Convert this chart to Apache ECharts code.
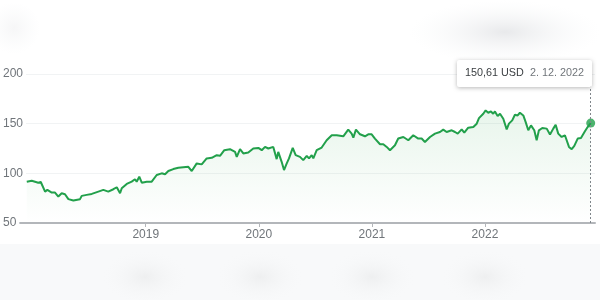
<!DOCTYPE html>
<html>
<head>
<meta charset="utf-8">
<script src="https://cdn.jsdelivr.net/npm/echarts@6/dist/echarts.min.js"></script>
<style>html,body{margin:0;padding:0;background:#fff}#c{width:600px;height:300px}</style>
</head>
<body>
<div id="c"></div>
<script>
const years = [
  2017.948, 2017.992, 2018.050, 2018.072, 2018.110, 2018.130, 2018.169, 2018.198, 2018.227, 2018.257,
  2018.286, 2018.316, 2018.360, 2018.419, 2018.434, 2018.478, 2018.523, 2018.581, 2018.625, 2018.669,
  2018.714, 2018.744, 2018.773, 2018.788, 2018.832, 2018.876, 2018.905, 2018.920, 2018.943, 2018.965,
  2019.009, 2019.053, 2019.097, 2019.141, 2019.171, 2019.200, 2019.244, 2019.288, 2019.377, 2019.407,
  2019.451, 2019.495, 2019.539, 2019.584, 2019.628, 2019.657, 2019.695, 2019.745, 2019.790, 2019.805,
  2019.834, 2019.863, 2019.907, 2019.951, 2019.996, 2020.026, 2020.055, 2020.084, 2020.128, 2020.143,
  2020.158, 2020.172, 2020.202, 2020.223, 2020.247, 2020.267, 2020.276, 2020.300, 2020.326, 2020.364,
  2020.393, 2020.424, 2020.444, 2020.468, 2020.482, 2020.512, 2020.556, 2020.600, 2020.645, 2020.689,
  2020.747, 2020.791, 2020.821, 2020.836, 2020.859, 2020.895, 2020.939, 2020.968, 2020.998, 2021.027,
  2021.072, 2021.101, 2021.131, 2021.160, 2021.204, 2021.233, 2021.278, 2021.322, 2021.366, 2021.410,
  2021.440, 2021.469, 2021.514, 2021.558, 2021.602, 2021.631, 2021.661, 2021.706, 2021.735, 2021.759,
  2021.794, 2021.817, 2021.852, 2021.897, 2021.927, 2021.947, 2021.985, 2022.006, 2022.029, 2022.053,
  2022.073, 2022.088, 2022.112, 2022.133, 2022.162, 2022.192, 2022.212, 2022.241, 2022.265, 2022.289,
  2022.309, 2022.339, 2022.360, 2022.383, 2022.407, 2022.436, 2022.457, 2022.477, 2022.507, 2022.546,
  2022.575, 2022.604, 2022.625, 2022.648, 2022.678, 2022.707, 2022.743, 2022.767, 2022.790, 2022.820,
  2022.849, 2022.884, 2022.908, 2022.935
];
// Closing prices in USD
const prices = [
  91.6, 92.6, 90.6, 91.3, 81.6, 83.3, 80.6, 80.6, 76.6, 80.0,
  79.0, 74.0, 72.6, 74.0, 77.3, 78.3, 79.3, 81.6, 83.3, 81.6,
  84.0, 86.0, 80.0, 85.0, 89.3, 91.6, 94.0, 91.6, 96.6, 90.6,
  91.6, 91.6, 98.3, 100.0, 99.0, 102.3, 104.3, 105.6, 106.6, 102.3,
  110.0, 109.0, 115.0, 115.6, 118.3, 117.6, 123.3, 124.3, 121.6, 116.6,
  124.3, 120.0, 121.0, 125.0, 125.6, 123.3, 126.6, 125.0, 126.6, 125.6,
  114.3, 121.6, 111.6, 103.3, 110.0, 115.0, 114.3, 125.6, 118.3, 116.6,
  113.3, 117.6, 115.0, 118.3, 115.0, 123.3, 126.0, 133.3, 138.3, 138.3,
  137.3, 144.0, 140.0, 136.0, 144.0, 139.3, 137.3, 139.3, 139.3, 135.0,
  129.3, 129.3, 126.6, 123.3, 128.3, 135.0, 136.6, 133.3, 138.3, 135.0,
  135.0, 131.6, 136.6, 140.0, 141.6, 144.0, 141.6, 143.3, 141.6, 140.0,
  144.3, 141.0, 146.0, 146.6, 150.0, 155.6, 160.0, 163.3, 161.0, 162.3,
  160.0, 162.3, 157.6, 160.0, 155.0, 144.3, 150.0, 153.3, 159.0, 158.3,
  161.0, 158.3, 151.6, 143.3, 148.3, 143.3, 133.3, 143.3, 145.6, 145.0,
  139.0, 145.0, 149.0, 140.0, 136.6, 138.3, 126.6, 124.3, 127.6, 135.0,
  135.6, 142.3, 146.6, 150.61
];
const xTickYears = [2019, 2020, 2021, 2022];
const yTicks = [50, 100, 150, 200];
const lastPriceText = '150,61 USD';
const lastDateText = '2. 12. 2022';

const GREEN = '#22a04b';
const GREY = '#70757a';
const lastIdx = prices.length - 1;
const FONT_TIP = '10.8px Arial, "Liberation Sans", sans-serif';

const chart = echarts.init(document.getElementById('c'), null, {renderer: 'canvas'});

function blob(cx, cy, r, sx, color, z) {
  return {
    type: 'circle', z: z, silent: true,
    x: cx, y: cy, scaleX: sx, scaleY: 1,
    shape: {cx: 0, cy: 0, r: r},
    style: {
      fill: {type: 'radial', x: 0.5, y: 0.5, r: 0.5,
        colorStops: [{offset: 0, color: color}, {offset: 1, color: 'rgba(248,249,250,0)'}]}
    }
  };
}

chart.setOption({
  animation: false,
  backgroundColor: '#fff',
  grid: {left: 15, right: 5, top: 74, bottom: 77},
  xAxis: {
    type: 'value',
    min: 2017.844,
    max: 2022.973,
    splitLine: {show: false},
    axisLine: {show: true, lineStyle: {color: '#b3b6ba', width: 2}},
    axisTick: {show: true, length: 4, customValues: xTickYears, lineStyle: {color: '#b3b6ba', width: 1}},
    axisLabel: {
      customValues: xTickYears,
      color: GREY, fontSize: 12, fontFamily: 'Arial, "Liberation Sans", sans-serif',
      margin: 6,
      formatter: v => String(Math.round(v))
    }
  },
  yAxis: {
    type: 'value',
    min: yTicks[0], max: yTicks[yTicks.length - 1], interval: 50,
    axisLine: {show: false},
    axisTick: {show: false},
    splitLine: {show: true, lineStyle: {color: '#f1f3f4', width: 1}},
    axisLabel: {
      align: 'left', margin: 12,
      color: GREY, fontSize: 12, fontFamily: 'Arial, "Liberation Sans", sans-serif',
      backgroundColor: '#fff', padding: [0, 3, 0, 0]
    }
  },
  series: [
    {
      type: 'line',
      data: years.map((t, i) => [t, prices[i]]),
      showSymbol: false,
      lineStyle: {color: GREEN, width: 2},
      itemStyle: {color: GREEN},
      areaStyle: {
        origin: 'start',
        color: {type: 'linear', x: 0, y: 0, x2: 0, y2: 1,
          colorStops: [{offset: 0, color: 'rgba(52,168,83,0.16)'}, {offset: 1, color: 'rgba(52,168,83,0)'}]}
      },
      markLine: {
        silent: true, symbol: 'none', animation: false,
        label: {show: false},
        lineStyle: {color: '#80868b', width: 1, type: [2, 2]},
        data: [{xAxis: years[lastIdx]}]
      },
      z: 2
    },
    {
      type: 'scatter',
      data: [[years[lastIdx], prices[lastIdx]]],
      symbolSize: 9,
      itemStyle: {color: GREEN},
      z: 3
    }
  ],
  graphic: [
    // blurred page surroundings
    {type: 'rect', z: -10, silent: true, shape: {x: 0, y: 244, width: 600, height: 56}, style: {fill: '#f8f9fa'}},
    blob(145, 277, 28, 1.6, 'rgba(238,239,240,1)', -9),
    blob(260, 277, 28, 1.6, 'rgba(238,239,240,1)', -9),
    blob(372, 277, 28, 1.6, 'rgba(238,239,240,1)', -9),
    blob(485, 277, 28, 1.6, 'rgba(238,239,240,1)', -9),
    blob(505, 32, 32, 3.0, 'rgba(232,233,235,1)', -9),
    blob(14, 28, 26, 1.0, 'rgba(246,246,247,1)', -9),
    // tooltip box
    {type: 'rect', z: 100, silent: true, shape: {x: 457, y: 60, width: 135, height: 27, r: 2},
      style: {fill: '#fff', shadowBlur: 4, shadowColor: 'rgba(0,0,0,0.28)', shadowOffsetY: 1}},
    {type: 'text', z: 101, silent: true, x: 465, y: 73.5,
      style: {text: lastPriceText, fill: '#3c4043', font: FONT_TIP, verticalAlign: 'middle'}},
    {type: 'text', z: 101, silent: true, x: 530, y: 73.5,
      style: {text: lastDateText, fill: GREY, font: FONT_TIP, verticalAlign: 'middle'}}
  ]
});
</script>
</body>
</html>
